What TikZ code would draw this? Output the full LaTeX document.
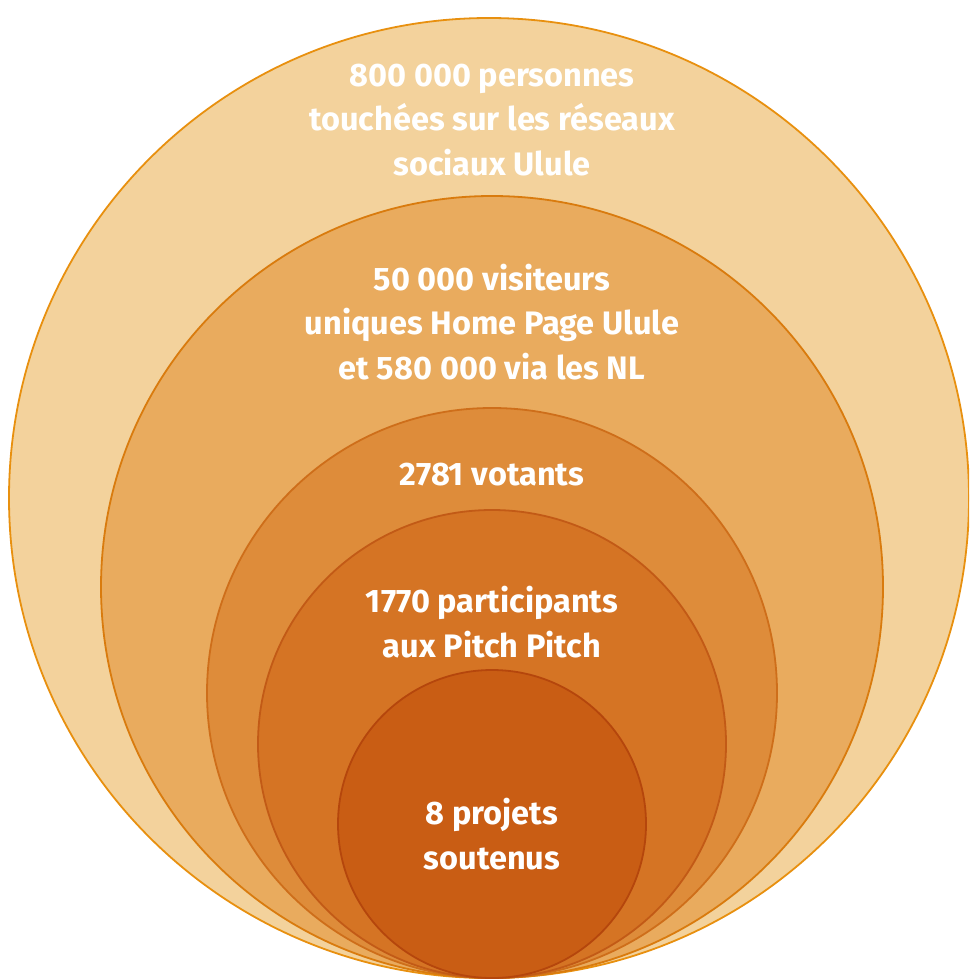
\documentclass[tikz,border=0pt]{standalone}
\usepackage{fontspec}
\setmainfont{Fira Sans}
\definecolor{fillA}{HTML}{F3D29C}
\definecolor{lineA}{HTML}{E8900F}
\definecolor{fillB}{HTML}{E9AB5E}
\definecolor{lineB}{HTML}{D97B0E}
\definecolor{fillC}{HTML}{DE8C3A}
\definecolor{lineC}{HTML}{CE6E1A}
\definecolor{fillD}{HTML}{D57424}
\definecolor{lineD}{HTML}{C25A16}
\definecolor{fillE}{HTML}{C95D14}
\definecolor{lineE}{HTML}{B5460C}
\begin{document}
\begin{tikzpicture}[x=1pt,y=-1pt,
  ring/.style={line width=1.8pt},
  lbl/.style={text=white,font=\fontsize{32.5}{44.5}\selectfont\bfseries,align=center,inner sep=0pt}]
\useasboundingbox (0,0) rectangle (969,979);
\clip (0,0) rectangle (969,979);
\draw[ring,fill=fillA,draw=lineA] (489,498) circle (480);
\draw[ring,fill=fillB,draw=lineB] (492,587) circle (391);
\draw[ring,fill=fillC,draw=lineC] (492,693) circle (285);
\draw[ring,fill=fillD,draw=lineD] (492,744) circle (234);
\draw[ring,fill=fillE,draw=lineE] (492,824) circle (154);
\node[lbl] (t1) at (492,120) {800 000 personnes\\touchées sur les réseaux\\sociaux Ulule};
\node[lbl] (t2) at (492,322) {50 000 visiteurs\\uniques Home Page Ulule\\et 580 000 via les NL};
\node[lbl] (t3) at (492,475) {2781 votants};
\node[lbl] (t4) at (492,622) {1770 participants\\aux Pitch Pitch};
\node[lbl] (t5) at (492,834) {8 projets\\soutenus};
\end{tikzpicture}
\end{document}
